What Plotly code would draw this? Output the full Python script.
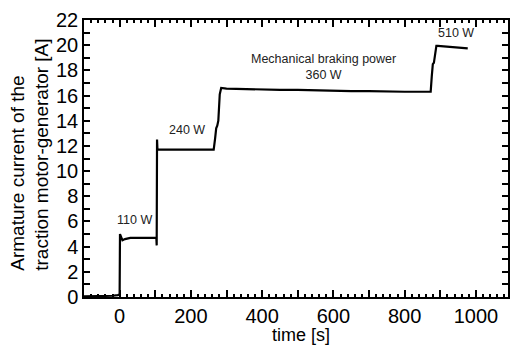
import plotly.graph_objects as go

# Data
time_s = [-100, -80, -60, -40, -20, -5, -1, 0, 1, 4, 8, 15, 30, 60, 90, 103, 104, 105, 106, 108, 115, 150, 200, 240, 264,
          268, 271, 274, 277, 281, 285, 300, 350, 400, 450, 500, 550, 600, 650, 700, 750, 800, 850, 870, 873,
          876, 879, 882, 885, 889, 893, 920, 950, 977]
current_a = [0.05, 0.05, 0.05, 0.08, 0.1, 0.15, 0.2, 0.2, 5.0, 4.8, 4.5, 4.6, 4.7, 4.7, 4.7, 4.7, 4.1, 12.5, 11.8, 11.7, 11.7, 11.7, 11.7, 11.7, 11.7,
             12.6, 13.4, 13.6, 14.0, 16.1, 16.6, 16.55, 16.5, 16.5, 16.45, 16.45, 16.4, 16.4, 16.35, 16.35, 16.3, 16.3, 16.3, 16.25, 16.3,
             17.5, 18.5, 18.6, 19.3, 19.95, 19.95, 19.9, 19.8, 19.75]

x_tick_vals = list(range(-100, 1101, 100))
x_tick_text = ["" if v % 200 else str(v) for v in x_tick_vals]
y_tick_vals = list(range(0, 23, 2))
y_tick_text = [str(v) for v in y_tick_vals]

annot_text = ["110 W", "240 W", "Mechanical braking power<br>360 W", "510 W"]
annot_x = [42, 190, 572, 943]
annot_y = [6.1, 13.25, 18.3, 20.95]

x_title = "time [s]"
y_title = "Armature current of the<br>traction motor-generator [A]"

FONT = "Liberation Sans, Arial, sans-serif"

W, H = 515, 348
ML, MR, MT, MB = 84, 5, 20, 51
PW, PH = W - ML - MR, H - MT - MB

fig = go.Figure()
fig.add_trace(go.Scatter(x=time_s, y=current_a, mode="lines",
                         line=dict(color="black", width=2.2), showlegend=False))

for t, xv, yv in zip(annot_text, annot_x, annot_y):
    fig.add_annotation(x=xv, y=yv, text=t, showarrow=False,
                       font=dict(family=FONT, size=12.5, color="#222"), xanchor="center", yanchor="middle")

# axis titles placed as paper annotations
fig.add_annotation(xref="paper", yref="paper", x=(302.5 - ML) / PW, y=-(347 - (H - MB)) / PH,
                   text=x_title, showarrow=False, xanchor="center", yanchor="bottom",
                   font=dict(family=FONT, size=18, color="black"))
fig.add_annotation(xref="paper", yref="paper", x=(29.5 - ML) / PW, y=((H - MB) - 273) / PH,
                   text=y_title, showarrow=False, xanchor="center", yanchor="bottom",
                   textangle=-90, align="left",
                   font=dict(family=FONT, size=19, color="black"))

axis_common = dict(showline=True, linecolor="black", linewidth=1.5, mirror="ticks",
                   ticks="inside", tickcolor="black", showgrid=False, zeroline=False,
                   tickfont=dict(family=FONT, size=20, color="black"))

fig.update_xaxes(range=[-100, 1090], tickmode="array", tickvals=x_tick_vals, ticktext=x_tick_text,
                 ticklen=7, tickwidth=1.5,
                 minor=dict(dtick=20, tick0=0, ticks="inside", ticklen=3, tickcolor="black", showgrid=False),
                 **axis_common)
fig.update_yaxes(range=[0, 22], tickmode="array", tickvals=y_tick_vals, ticktext=y_tick_text,
                 ticklen=6, tickwidth=1.5,
                 minor=dict(dtick=1, tick0=0, ticks="inside", ticklen=6, tickcolor="black", showgrid=False),
                 **axis_common)

fig.update_layout(width=W, height=H, margin=dict(l=ML, r=MR, t=MT, b=MB),
                  plot_bgcolor="white", paper_bgcolor="white")

fig.write_html("out.html")
